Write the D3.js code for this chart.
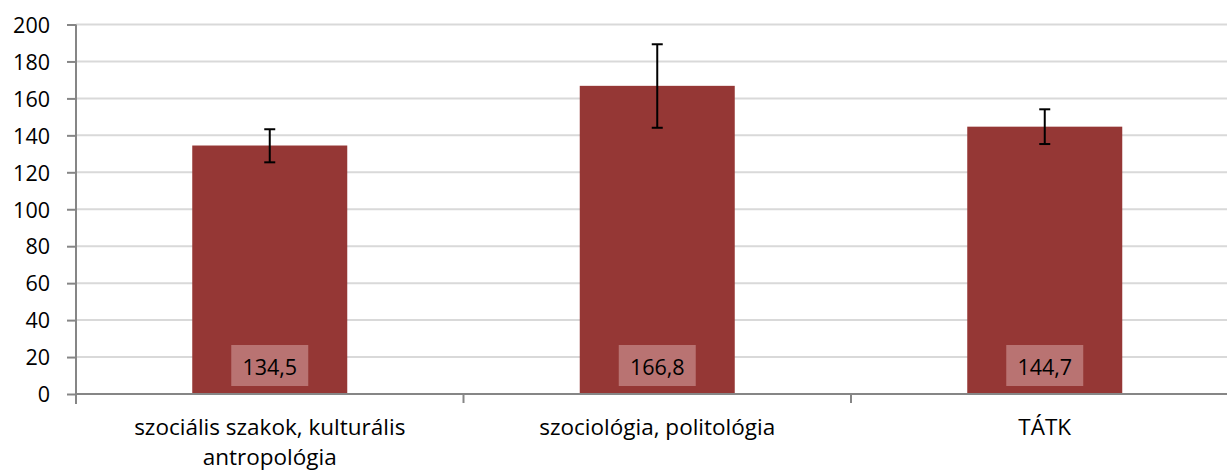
<!DOCTYPE html>
<html>
<head>
<meta charset="utf-8">
<script src="https://cdn.jsdelivr.net/npm/d3@7"></script>
<style>
  body { margin: 0; background: #fff; }
  text { font-family: "Open Sans", sans-serif; fill: #000; }
</style>
</head>
<body>
<div id="chart"></div>
<script>
// data
var categories = ["szociális szakok, kulturális antropológia", "szociológia, politológia", "TÁTK"];
var catLines = [["szociális szakok, kulturális", "antropológia"], ["szociológia, politológia"], ["TÁTK"]];
var values = [134.5, 166.8, 144.7];
var errLow = [125.4, 144.1, 135.3];
var errHigh = [143.3, 189.3, 154.1];
var valueLabels = ["134,5", "166,8", "144,7"];
var yTicks = [0, 20, 40, 60, 80, 100, 120, 140, 160, 180, 200];

var width = 1227, height = 473;
var margin = {top: 24.5, left: 76, bottom: 79};
var plotW = 1162.5;
var plotH = height - margin.top - margin.bottom;

var svg = d3.select("#chart")
  .append("svg")
    .attr("width", width)
    .attr("height", height);

var g = svg.append("g")
    .attr("transform", "translate(" + margin.left + "," + margin.top + ")");

var x = d3.scaleBand()
    .domain(categories)
    .range([0, plotW])
    .padding(0);

var y = d3.scaleLinear()
    .domain([0, 200])
    .range([plotH, 0]);

// gridlines
g.selectAll(".grid")
  .data(yTicks.slice(1))
  .enter().append("line")
    .attr("x1", 0)
    .attr("x2", plotW)
    .attr("y1", function(d) { return y(d); })
    .attr("y2", function(d) { return y(d); })
    .attr("stroke", "#d9d9d9")
    .attr("stroke-width", 2);

// bars
var barW = x.bandwidth() * 0.4;
g.selectAll(".bar")
  .data(values)
  .enter().append("rect")
    .attr("x", function(d, i) { return x(categories[i]) + (x.bandwidth() - barW) / 2; })
    .attr("y", function(d) { return y(d); })
    .attr("width", barW)
    .attr("height", function(d) { return plotH - y(d); })
    .attr("fill", "#953735");

// error bars
var cap = 11;
values.forEach(function(v, i) {
  var cx = x(categories[i]) + x.bandwidth() / 2;
  g.append("line")
    .attr("x1", cx).attr("x2", cx)
    .attr("y1", y(errHigh[i])).attr("y2", y(errLow[i]))
    .attr("stroke", "#000").attr("stroke-width", 2);
  [errHigh[i], errLow[i]].forEach(function(e) {
    g.append("line")
      .attr("x1", cx - cap / 2).attr("x2", cx + cap / 2)
      .attr("y1", y(e)).attr("y2", y(e))
      .attr("stroke", "#000").attr("stroke-width", 2);
  });
});

// value labels in boxes
values.forEach(function(v, i) {
  var cx = x(categories[i]) + x.bandwidth() / 2;
  g.append("rect")
    .attr("x", cx - 38.5)
    .attr("y", plotH - 49)
    .attr("width", 77)
    .attr("height", 41)
    .attr("fill", "#b97372");
  g.append("text")
    .attr("x", cx)
    .attr("y", plotH - 19)
    .attr("text-anchor", "middle")
    .attr("font-size", 21.5)
    .text(valueLabels[i]);
});

// y axis
var yAxis = g.append("g")
    .call(d3.axisLeft(y).tickValues(yTicks).tickSize(9).tickPadding(17));
yAxis.selectAll("text").attr("font-size", 21.5).attr("dy", "0.36em");
yAxis.select(".domain").attr("stroke", "#868686").attr("stroke-width", 2)
    .attr("d", "M0," + (plotH + 10) + "V0");
yAxis.selectAll(".tick line").attr("stroke", "#868686").attr("stroke-width", 2);

// x axis
var xAxisG = g.append("g")
    .attr("transform", "translate(0," + plotH + ")");
xAxisG.append("line")
    .attr("x1", 0).attr("x2", plotW)
    .attr("stroke", "#868686").attr("stroke-width", 2);
[0, 1, 2].forEach(function(i) {
  var tx = x(categories[i]);
  xAxisG.append("line")
    .attr("x1", tx).attr("x2", tx)
    .attr("y1", 0).attr("y2", 9)
    .attr("stroke", "#868686").attr("stroke-width", 2);
});
catLines.forEach(function(lines, i) {
  var cx = x(categories[i]) + x.bandwidth() / 2;
  var t = xAxisG.append("text")
    .attr("text-anchor", "middle")
    .attr("font-size", 22.5);
  lines.forEach(function(l, j) {
    t.append("tspan")
      .attr("x", cx)
      .attr("y", 41 + j * 30)
      .text(l);
  });
});
</script>
</body>
</html>
